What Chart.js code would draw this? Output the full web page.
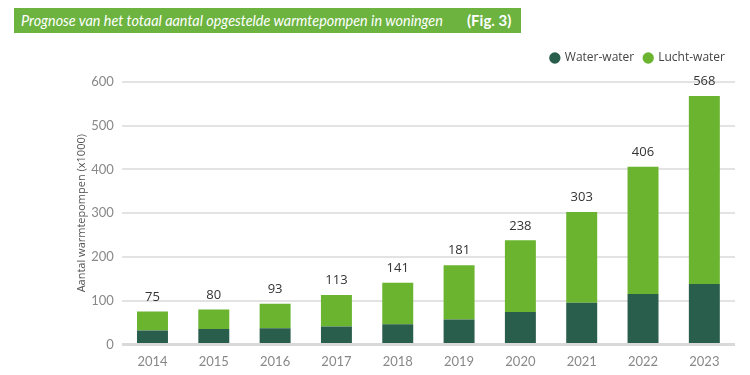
<!DOCTYPE html>
<html>
<head>
<meta charset="utf-8">
<script src="https://cdn.jsdelivr.net/npm/chart.js@4"></script>
<style>
  html, body { margin: 0; padding: 0; background: #fff; }
  #wrap { position: relative; width: 750px; height: 375px; }
  #banner {
    position: absolute; left: 14px; top: 8px; width: 507px; height: 25px;
    background: #6cb33f; color: #fff; font-family: Lato, sans-serif;
    font-size: 14.4px; line-height: 25px;
  }
  #banner i { position: absolute; left: 7px; top: 0; font-style: italic; white-space: nowrap; }
  #banner b { position: absolute; left: 453px; top: 0; font-size: 15px; font-weight: bold; }
</style>
</head>
<body>
<div id="wrap">
  <canvas id="chart" width="750" height="375"></canvas>
  <div id="banner"><i>Prognose van het totaal aantal opgestelde warmtepompen in woningen</i><b>(Fig. 3)</b></div>
</div>
<script>
const years = ["2014", "2015", "2016", "2017", "2018", "2019", "2020", "2021", "2022", "2023"];
const waterWater = [32, 35, 37, 41, 46, 57, 74, 95, 115, 138];
const luchtWater = [43, 45, 56, 72, 95, 124, 164, 208, 291, 430];
const totals = [75, 80, 93, 113, 141, 181, 238, 303, 406, 568];
const yTicks = [0, 100, 200, 300, 400, 500, 600];

const darkGreen = "#2a5e4c";
const lightGreen = "#6ab42f";

// totals above each stacked bar
const totalLabels = {
    id: "totalLabels",
    afterDatasetsDraw(chart) {
        const ctx = chart.ctx;
        const meta = chart.getDatasetMeta(1);
        const yScale = chart.scales.y;
        ctx.save();
        ctx.font = "13px 'Open Sans', sans-serif";
        ctx.fillStyle = "#333";
        ctx.textAlign = "center";
        ctx.textBaseline = "bottom";
        totals.forEach((t, i) => {
            const x = meta.data[i].x;
            ctx.fillText(String(t), x, yScale.getPixelForValue(t) - 8);
        });
        ctx.restore();
    }
};

// a bit more room under the legend
const legendGap = {
    id: "legendGap",
    beforeInit(chart) {
        const fit = chart.legend.fit;
        chart.legend.fit = function() {
            fit.call(this);
            this.height += 8;
        };
    }
};

new Chart(document.getElementById("chart"), {
    type: "bar",
    data: {
        labels: years,
        datasets: [
            { label: "Water-water", data: waterWater, backgroundColor: darkGreen },
            { label: "Lucht-water", data: luchtWater, backgroundColor: lightGreen }
        ]
    },
    options: {
        responsive: false,
        animation: false,
        layout: { padding: { left: 71, right: 15, top: 42, bottom: 3 } },
        datasets: { bar: { categoryPercentage: 1, barPercentage: 0.505 } },
        plugins: {
            legend: {
                align: "end",
                labels: {
                    usePointStyle: true, pointStyle: "circle", boxWidth: 8, boxHeight: 8,
                    color: "#444", font: { family: "'Open Sans', sans-serif", size: 12 },
                    padding: 10
                }
            },
            tooltip: { enabled: false }
        },
        scales: {
            x: {
                stacked: true,
                grid: { display: false },
                border: { display: false },
                ticks: { color: "#888", font: { family: "Lato, sans-serif", size: 13 }, padding: 2 }
            },
            y: {
                stacked: true,
                min: 0, max: 600,
                afterBuildTicks(axis) { axis.ticks = yTicks.map(v => ({ value: v })); },
                grid: {
                    color: ctx => ctx.tick && ctx.tick.value === 0 ? "#d9d9d9" : "#e3e3e3",
                    lineWidth: ctx => ctx.tick && ctx.tick.value === 0 ? 3 : 2,
                    drawTicks: false
                },
                border: { display: false },
                ticks: { color: "#888", font: { family: "Lato, sans-serif", size: 13 }, padding: 8 },
                title: {
                    display: true, text: "Aantal warmtepompen (x1000)", color: "#555",
                    font: { family: "'Open Sans', sans-serif", size: 11 }, padding: { top: 4, bottom: -5 }
                }
            }
        }
    },
    plugins: [totalLabels, legendGap]
});
</script>
</body>
</html>
